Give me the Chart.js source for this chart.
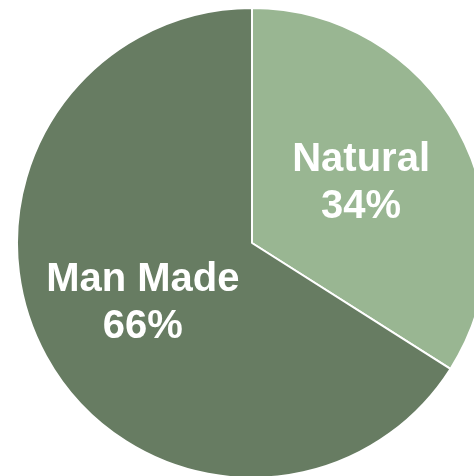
<!DOCTYPE html>
<html>
<head>
<meta charset="utf-8">
<script src="https://cdn.jsdelivr.net/npm/chart.js@4"></script>
<style>
  html, body { margin: 0; padding: 0; background: #fff; overflow: hidden; width: 474px; height: 476px; }
  #wrap { position: absolute; left: 0; top: 0; width: 504px; height: 479px; }
</style>
</head>
<body>
<div id="wrap"><canvas id="myChart"></canvas></div>
<script>
const labels = ['Natural', 'Man Made'];
const values = [34, 66];
const colors = ['#99B692', '#677C62'];

// draw "Name / NN%" inside each slice
const sliceLabels = {
    id: 'sliceLabels',
    afterDatasetsDraw(chart) {
        const ctx = chart.ctx;
        const meta = chart.getDatasetMeta(0);
        const total = values.reduce((a, b) => a + b, 0);
        ctx.save();
        ctx.fillStyle = '#ffffff';
        ctx.font = 'bold 40px "Liberation Sans", Arial, sans-serif';
        ctx.textAlign = 'center';
        ctx.textBaseline = 'middle';
        meta.data.forEach((arc, i) => {
            const p = arc.getProps(['x', 'y', 'startAngle', 'endAngle', 'outerRadius'], true);
            const mid = (p.startAngle + p.endAngle) / 2;
            const r = p.outerRadius * 0.53;
            const x = p.x + Math.cos(mid) * r;
            const y = p.y + Math.sin(mid) * r;
            const pct = Math.round(values[i] / total * 100) + '%';
            ctx.fillText(labels[i], x, y - 23);
            ctx.fillText(pct, x, y + 24);
        });
        ctx.restore();
    }
};

new Chart(document.getElementById('myChart'), {
    type: 'pie',
    data: {
        labels: labels,
        datasets: [{
            data: values,
            backgroundColor: colors,
            borderColor: '#ffffff',
            borderWidth: 2
        }]
    },
    options: {
        responsive: true,
        maintainAspectRatio: false,
        animation: false,
        layout: { padding: { top: 7 } },
        plugins: {
            legend: { display: false },
            tooltip: { enabled: false }
        }
    },
    plugins: [sliceLabels]
});
</script>
</body>
</html>
